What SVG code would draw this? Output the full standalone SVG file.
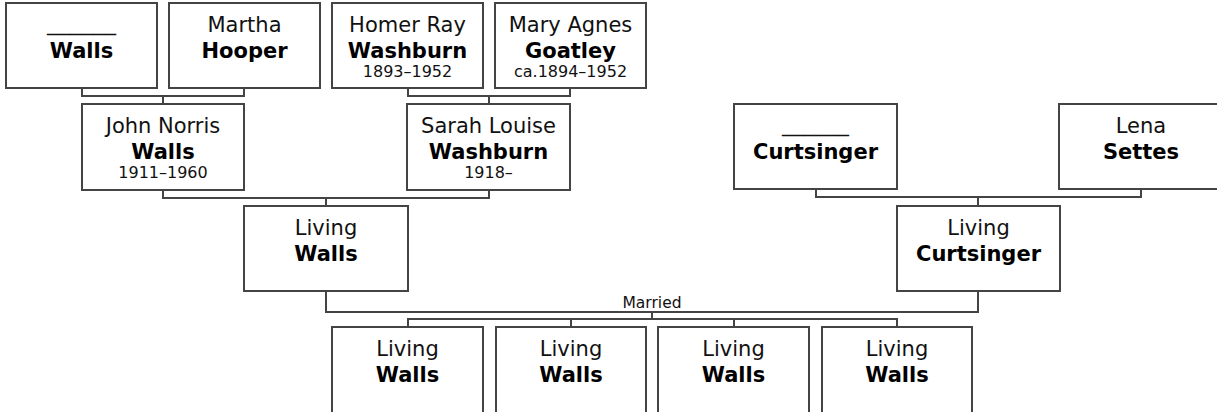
<svg xmlns="http://www.w3.org/2000/svg" width="1217" height="412" viewBox="0 0 1217 412">
<style>
.box{fill:#fff;stroke:#444;stroke-width:2}
.ln{fill:none;stroke:#444;stroke-width:2}
text{font-family:"DejaVu Sans",Verdana,sans-serif;text-anchor:middle;fill:#111}
.g{font-size:21px}
.s{font-size:21px;font-weight:bold;fill:#000}
.d{font-size:16px}
.m{font-size:15.5px}
</style>
<rect width="1217" height="412" fill="#fff"/>
<g id="connectors">
<path class="ln" d="M82,88V96H244V88M163,96V104"/>
<path class="ln" d="M408,88V96H570V88M489,96V104"/>
<path class="ln" d="M163,190V198H489V190M326,198V206"/>
<path class="ln" d="M816,189V197H1141V189M978,197V206"/>
<path class="ln" d="M326,291V312H978V291M652,312V319"/>
<path class="ln" d="M408,327V319H897V327M571,319V327M734,319V327"/>
<text class="m" x="652" y="308">Married</text>
</g>
<g id="n1"><rect class="box" x="6" y="3" width="151" height="85"/><text class="g" x="81.5" y="30" textLength="69" lengthAdjust="spacingAndGlyphs">______</text><text class="s" x="81.5" y="58">Walls</text></g>
<g id="n2"><rect class="box" x="169" y="3" width="151" height="85"/><text class="g" x="244.5" y="32">Martha</text><text class="s" x="244.5" y="58">Hooper</text></g>
<g id="n3"><rect class="box" x="332" y="3" width="151" height="85"/><text class="g" x="407.5" y="32">Homer Ray</text><text class="s" x="407.5" y="58">Washburn</text><text class="d" x="407.5" y="77">1893–1952</text></g>
<g id="n4"><rect class="box" x="495" y="3" width="151" height="85"/><text class="g" x="570.5" y="32">Mary Agnes</text><text class="s" x="570.5" y="58">Goatley</text><text class="d" x="570.5" y="77">ca.1894–1952</text></g>
<g id="n5"><rect class="box" x="82" y="104" width="162" height="86"/><text class="g" x="163" y="133">John Norris</text><text class="s" x="163" y="159">Walls</text><text class="d" x="163" y="178">1911–1960</text></g>
<g id="n6"><rect class="box" x="407" y="104" width="163" height="86"/><text class="g" x="488.5" y="133">Sarah Louise</text><text class="s" x="488.5" y="159">Washburn</text><text class="d" x="488.5" y="178">1918–</text></g>
<g id="n7"><rect class="box" x="734" y="104" width="163" height="85"/><text class="g" x="815.5" y="131" textLength="67" lengthAdjust="spacingAndGlyphs">______</text><text class="s" x="815.5" y="159">Curtsinger</text></g>
<g id="n8"><rect class="box" x="1059" y="104" width="164" height="85"/><text class="g" x="1141" y="133">Lena</text><text class="s" x="1141" y="159">Settes</text></g>
<g id="n9"><rect class="box" x="244" y="206" width="164" height="85"/><text class="g" x="326" y="235">Living</text><text class="s" x="326" y="261">Walls</text></g>
<g id="n10"><rect class="box" x="897" y="206" width="163" height="85"/><text class="g" x="978.5" y="235">Living</text><text class="s" x="978.5" y="261">Curtsinger</text></g>
<g id="n11"><rect class="box" x="332" y="327" width="151" height="90"/><text class="g" x="407.5" y="356">Living</text><text class="s" x="407.5" y="382">Walls</text></g>
<g id="n12"><rect class="box" x="496" y="327" width="150" height="90"/><text class="g" x="571" y="356">Living</text><text class="s" x="571" y="382">Walls</text></g>
<g id="n13"><rect class="box" x="658" y="327" width="151" height="90"/><text class="g" x="733.5" y="356">Living</text><text class="s" x="733.5" y="382">Walls</text></g>
<g id="n14"><rect class="box" x="822" y="327" width="150" height="90"/><text class="g" x="897" y="356">Living</text><text class="s" x="897" y="382">Walls</text></g>
</svg>
